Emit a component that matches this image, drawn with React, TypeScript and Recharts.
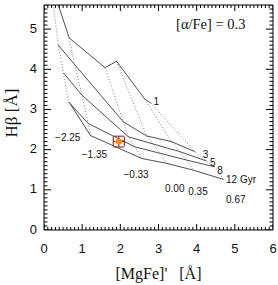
import { ComposedChart, Line, Scatter, XAxis, YAxis, ErrorBar } from 'recharts'

// model grid: one row per age, one value per [Z/H]
const METALS = ['\u22122.25', '\u22121.35', '\u22120.33', '0.00', '0.35', '0.67']
const AGES = ['1', '3', '5', '8', '12 Gyr']

const MGFE_1 = [0.17, 0.66, 1.6, 1.9, 2.64, 2.8]
const HB_1 = [6.2, 4.78, 4.04, 4.2, 3.26, 3.16]
const MGFE_3 = [0.375, 0.8, 2.08, 2.69, 3.34, 3.95]
const HB_3 = [4.6, 4.12, 2.69, 2.34, 2.2, 1.95]
const MGFE_5 = [0.51, 0.99, 2.21, 2.86, 3.56, 4.25]
const HB_5 = [3.91, 3.36, 2.32, 2.14, 1.95, 1.72]
const MGFE_8 = [0.64, 1.16, 2.38, 3.04, 3.74, 4.48]
const HB_8 = [3.19, 2.65, 2.07, 1.91, 1.74, 1.57]
const MGFE_12 = [0.68, 1.22, 2.56, 3.21, 3.91, 4.7]
const HB_12 = [3.15, 2.35, 1.78, 1.66, 1.49, 1.26]

// where the age / metallicity labels sit (data units)
const AGE_LABEL_X = [2.87, 4.16, 4.35, 4.54, 4.77]
const AGE_LABEL_Y = [3.21, 1.89, 1.68, 1.48, 1.26]
const METAL_LABEL_X = [0.29, 0.99, 2.08, 3.17, 3.78, 4.77]
const METAL_LABEL_Y = [2.3, 1.87, 1.37, 1.04, 0.95, 0.75]

// the galaxy
const OBS_MGFE = 1.96
const OBS_HB = 2.2
const OBS_ERR_MGFE = 0.145
const OBS_ERR_HB = 0.135

const X_MAX = 6
const Y_MAX = 5.6
const X_TICKS = Array.from({ length: 61 }, (_, i) => i / 10)
const Y_TICKS = Array.from({ length: 57 }, (_, i) => i / 10)
const X_MAJOR = [0, 1, 2, 3, 4, 5, 6]
const Y_MAJOR = [0, 1, 2, 3, 4, 5]

const ageMgfe = [MGFE_1, MGFE_3, MGFE_5, MGFE_8, MGFE_12]
const ageHb = [HB_1, HB_3, HB_5, HB_8, HB_12]
const ageLines = ageMgfe.map((xs, a) => xs.map((x, j) => ({ x, y: ageHb[a][j] })))
const metalLines = METALS.map((_, j) => ageMgfe.map((xs, a) => ({ x: xs[j], y: ageHb[a][j] })))

const labels = [
  ...AGES.map((t, i) => ({ x: AGE_LABEL_X[i], y: AGE_LABEL_Y[i], t })),
  ...METALS.map((t, i) => ({ x: METAL_LABEL_X[i], y: METAL_LABEL_Y[i], t })),
]
const alphaLabel = [{ x: 3.46, y: 5.12, t: '[\u03b1/Fe] = 0.3' }]
const obs = [{ x: OBS_MGFE, y: OBS_HB, ex: OBS_ERR_MGFE, ey: OBS_ERR_HB }]

const isMajor = (v: number) => Math.abs(v - Math.round(v)) < 1e-6

// inward tick marks on all four sides of the frame
const tickMarks = [
  ...X_TICKS.map((v) => ({ x: v, y: 0, side: 'b', major: isMajor(v) })),
  ...X_TICKS.map((v) => ({ x: v, y: Y_MAX, side: 't', major: isMajor(v) })),
  ...Y_TICKS.map((v) => ({ x: 0, y: v, side: 'l', major: isMajor(v) })),
  ...Y_TICKS.map((v) => ({ x: X_MAX, y: v, side: 'r', major: isMajor(v) })),
]

const sans = '"Liberation Sans", Arial, sans-serif'
const serif = '"Liberation Serif", "Times New Roman", serif'

const TickShape = ({ cx, cy, payload }: any) => {
  const { side, major } = payload
  const lx = major ? 7 : 3.5
  const ly = major ? 6 : 3
  let d = ''
  if (side === 'b') d = `M${cx},${cy}V${cy - ly}`
  if (side === 't') d = `M${cx},${cy}V${cy + ly}`
  if (side === 'l') d = `M${cx},${cy}H${cx + lx}`
  if (side === 'r') d = `M${cx},${cy}H${cx - lx}`
  return <path d={d} stroke="#000" strokeWidth={1} fill="none" />
}

const renderBottomTick = ({ x, y, payload }: any) => (
  <text x={x} y={y + 23} textAnchor="middle" fontSize={13} fontFamily={sans} fill="#111">
    {payload.value}
  </text>
)

const renderLeftTick = ({ x, y, payload }: any) => (
  <text x={x - 7} y={y + 3.5} textAnchor="end" fontSize={13} fontFamily={sans} fill="#111">
    {payload.value}
  </text>
)

const LabelShape = ({ cx, cy, payload }: any) => (
  <text x={cx} y={cy + 3.5} fontSize={10} fontFamily={sans} fill="#111">
    {payload.t}
  </text>
)

const AlphaShape = ({ cx, cy, payload }: any) => (
  <text x={cx} y={cy + 4.5} fontSize={14.5} fontFamily={serif} fill="#111">
    {payload.t}
  </text>
)

export default function App() {
  return (
    <div style={{ position: 'absolute', left: 0, top: 0, background: '#fff' }}>
      <ComposedChart width={278} height={285} margin={{ top: 4, right: 4, bottom: 0, left: 0 }}>
        <XAxis
          xAxisId="b"
          type="number"
          dataKey="x"
          domain={[0, X_MAX]}
          ticks={X_MAJOR}
          interval={0}
          tickSize={0}
          tickMargin={0}
          tickLine={false}
          tick={renderBottomTick}
          axisLine={{ stroke: '#000' }}
          height={55}
          allowDataOverflow
          label={{
            value: "[MgFe]'\u00a0\u00a0\u00a0[\u00c5]",
            position: 'insideBottom',
            offset: 6,
            style: { fontSize: 16, fontFamily: serif, fill: '#111' },
          }}
        />
        <XAxis
          xAxisId="t"
          orientation="top"
          type="number"
          domain={[0, X_MAX]}
          ticks={X_MAJOR}
          tick={false}
          tickLine={false}
          axisLine={{ stroke: '#000' }}
          height={1}
        />
        <YAxis
          yAxisId="l"
          type="number"
          dataKey="y"
          domain={[0, Y_MAX]}
          ticks={Y_MAJOR}
          interval={0}
          tickSize={0}
          tickMargin={0}
          tickLine={false}
          tick={renderLeftTick}
          axisLine={{ stroke: '#000' }}
          width={44}
          allowDataOverflow
          label={{
            content: () => (
              <text
                x={13}
                y={113}
                transform="rotate(-90 13 113)"
                textAnchor="middle"
                dominantBaseline="middle"
                fontSize={17}
                fontFamily={serif}
                fill="#111"
              >
                H{'\u03b2'} [{'\u00c5'}]
              </text>
            ),
          }}
        />
        <YAxis
          yAxisId="r"
          orientation="right"
          type="number"
          domain={[0, Y_MAX]}
          ticks={Y_MAJOR}
          tick={false}
          tickLine={false}
          axisLine={{ stroke: '#000' }}
          width={1}
        />

        <Scatter xAxisId="b" yAxisId="l" data={tickMarks} shape={<TickShape />} isAnimationActive={false} />

        {metalLines.map((d, j) => (
          <Line
            key={'z' + j}
            xAxisId="b"
            yAxisId="l"
            data={d}
            dataKey="y"
            stroke="#808080"
            strokeWidth={1}
            strokeDasharray="1 2"
            dot={false}
            activeDot={false}
            isAnimationActive={false}
          />
        ))}
        {ageLines.map((d, a) => (
          <Line
            key={'a' + a}
            xAxisId="b"
            yAxisId="l"
            data={d}
            dataKey="y"
            stroke="#3c3c3c"
            strokeWidth={0.9}
            dot={false}
            activeDot={false}
            isAnimationActive={false}
          />
        ))}

        <Scatter xAxisId="b" yAxisId="l" data={labels} shape={<LabelShape />} isAnimationActive={false} />
        <Scatter xAxisId="b" yAxisId="l" data={alphaLabel} shape={<AlphaShape />} isAnimationActive={false} />
        <Scatter
          xAxisId="b"
          yAxisId="l"
          data={obs}
          fill="#ff8c1a"
          isAnimationActive={false}
          shape={({ cx, cy }: any) => <circle cx={cx} cy={cy} r={3.2} fill="#ff8c1a" />}
        >
          <ErrorBar dataKey="ex" direction="x" width={5} stroke="#8b2a2a" strokeWidth={1.1} />
          <ErrorBar dataKey="ey" direction="y" width={5} stroke="#8b2a2a" strokeWidth={1.1} />
        </Scatter>
      </ComposedChart>
    </div>
  )
}
